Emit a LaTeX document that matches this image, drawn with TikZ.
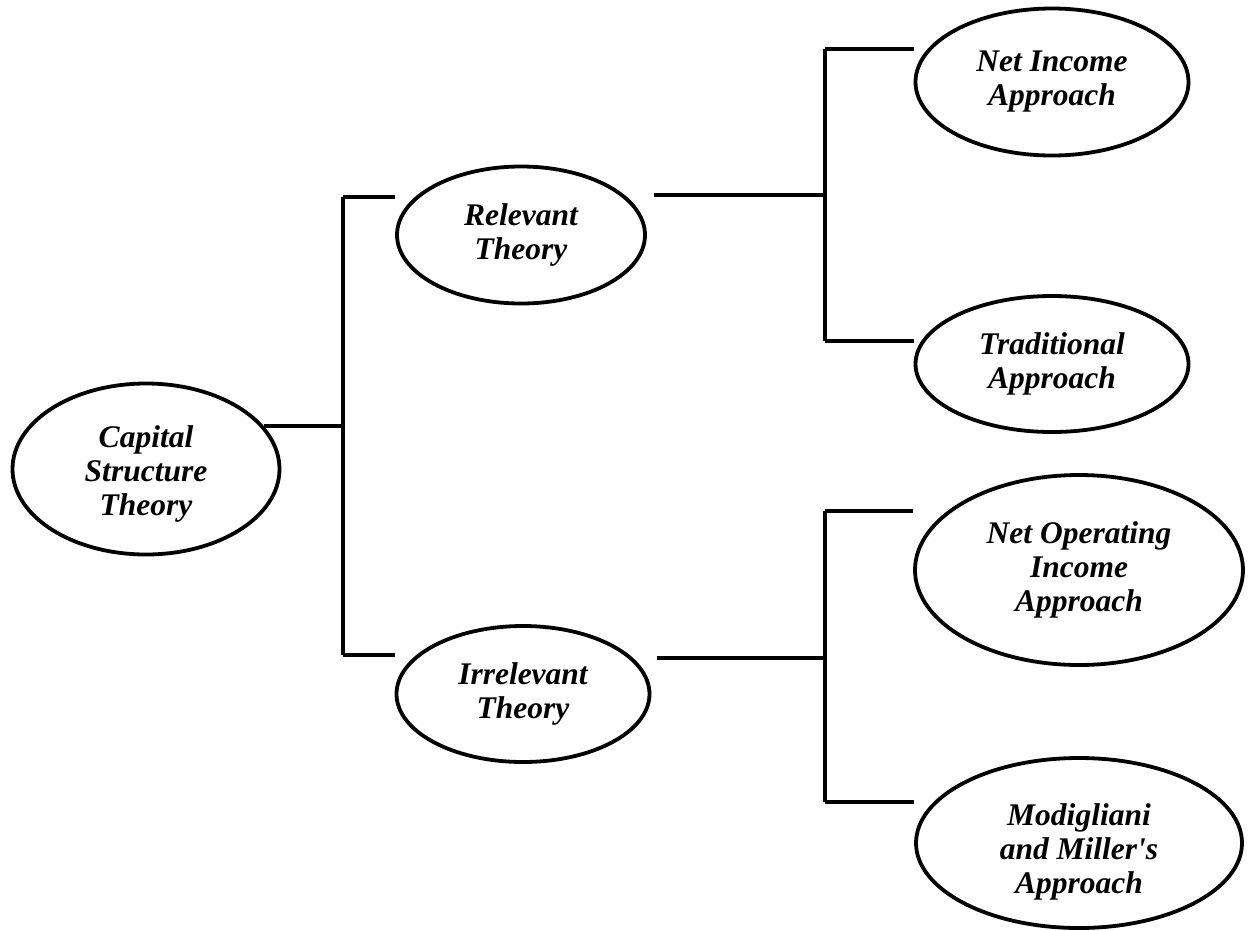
\documentclass[tikz,border=0pt]{standalone}
\usepackage{fontspec}
\setmainfont{Liberation Serif}
\usetikzlibrary{shapes.geometric}
\begin{document}
\begin{tikzpicture}[x=1pt,y=-1pt,
  oval/.style={ellipse, draw, line width=3.8pt, inner sep=0pt},
  lbl/.style={align=center, font=\fontsize{31.5}{34}\selectfont\bfseries\itshape},
  link/.style={line width=3.2pt}]
\useasboundingbox (0,0) rectangle (1248,930);
% ellipses
\node[oval, minimum width=267pt, minimum height=171pt] (cap) at (146,469) {};
\node[oval, lbl, minimum width=248pt, minimum height=137pt] (rel) at (521,235) {Relevant\\Theory};
\node[oval, lbl, minimum width=253pt, minimum height=136pt] (irr) at (523,694) {Irrelevant\\Theory};
\node[oval, lbl, minimum width=273pt, minimum height=147pt] (ni) at (1052,82) {Net Income\\Approach};
\node[oval, lbl, minimum width=273pt, minimum height=136pt] (tr) at (1052,364) {Traditional\\Approach};
\node[oval, lbl, minimum width=328pt, minimum height=190pt] (noi) at (1079,570) {Net Operating\\Income\\Approach};
\node[oval, minimum width=326pt, minimum height=170pt] (mm) at (1079,843) {};
% clipped labels
\begin{scope}
\clip (0,0) rectangle (1248,523);
\node[lbl] (capt) at (146,474) {Capital\\Structure\\Theory};
\end{scope}
\begin{scope}
\clip (0,0) rectangle (1248,899);
\node[lbl] (mmt) at (1079,852) {Modigliani\\and Miller\textquotesingle s\\Approach};
\end{scope}
% bus coordinates
\coordinate (b1t) at (343,197);
\coordinate (b1m) at (343,426);
\coordinate (b1b) at (343,655);
\coordinate (b2t) at (825,49);
\coordinate (b2m) at (825,195);
\coordinate (b2b) at (825,341);
\coordinate (b3t) at (825,511);
\coordinate (b3m) at (825,658);
\coordinate (b3b) at (825,802);
% connectors
\draw[link] (cap.20) -- (cap.20 -| b1m);
\draw[link] (b1t) -- (b1b);
\draw[link] (b1t) -- (b1t -| rel.west);
\draw[link] (b1b) -- (b1b -| irr.west);
\draw[link] ([xshift=7pt]rel.east |- b2m) -- (b2m);
\draw[link] (b2t) -- (b2b);
\draw[link] (b2t) -- (b2t -| ni.west);
\draw[link] (b2b) -- (b2b -| tr.west);
\draw[link] ([xshift=6pt]irr.east |- b3m) -- (b3m);
\draw[link] (b3t) -- (b3b);
\draw[link] (b3t) -- (b3t -| noi.west);
\draw[link] (b3b) -- (b3b -| mm.west);
\end{tikzpicture}
\end{document}
